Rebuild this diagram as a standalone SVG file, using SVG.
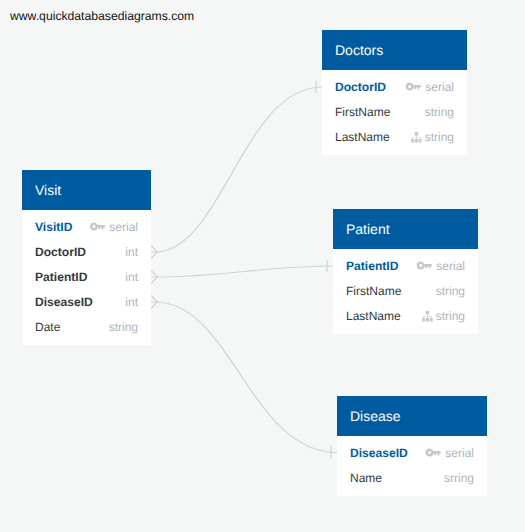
<svg xmlns="http://www.w3.org/2000/svg" width="525" height="532" viewBox="0 0 525 532">
<style>
text{font-family:"Liberation Sans",Arial,sans-serif;font-size:12px;fill:#343a40;text-rendering:geometricPrecision}
.t{font-size:14px;fill:#fff}
.pk{font-weight:700;font-size:12.1px;fill:#005ba1}
.fk{font-weight:700;font-size:12.1px}
.ty{fill:#adb5bd;text-anchor:end}
.hd{fill:#005ba1}
.bd{fill:#fff}
.c{fill:none;stroke:#d0d3d3;stroke-width:1.2}
.i{fill:#c4c9ce}
</style>
<defs>
<g id="key"><path class="i" fill-rule="evenodd" d="M4 -4A4 4 0 0 1 7.700 -1.500H15V1H13.500V3H11.800V1H10.300V2.500H8.700V1H7.800A4 4 0 1 1 4 -4ZM4 -1.500A1.500 1.500 0 1 0 4 1.500A1.500 1.500 0 1 0 4 -1.500Z"/></g>
<g id="tree"><path class="i" d="M3.500 -5.500H7V-2H3.500ZM0 1.500H3V5H0ZM3.800 1.500H6.800V5H3.800ZM7.500 1.500H10.500V5H7.500ZM5 -2H5.600V-0.500H9.300V1.500H8.700V0.100H5.600V1.500H5V0.100H1.800V1.500H1.200V-0.500H5Z"/></g>
</defs>
<rect width="525" height="532" fill="#f5f7f7"/>
<text x="10" y="20" style="fill:#111;font-size:12.2px">www.quickdatabasediagrams.com</text>
<g id="connectors">
<path class="c" d="M151 252H155C222 252 243 87 322 87"/>
<path class="c" d="M151 277H155C225 277 263 266 333 266"/>
<path class="c" d="M151 302H155C232 302 250 452.500 337 452.500"/>
<path class="c" d="M151 245.500L157.500 252L151 258.500M151 270.500L157.500 277L151 283.500M151 295.500L157.500 302L151 308.500"/>
<path class="c" d="M316 81V93M327 260V272M331 446V458"/>
</g>
<g id="visit">
<rect class="bd" x="22" y="170" width="129" height="175"/>
<rect class="hd" x="22" y="170" width="129" height="40"/>
<text class="t" x="35" y="195">Visit</text>
<text class="pk" x="35" y="231">VisitID</text><use href="#key" x="90" y="226.500"/><text class="ty" x="138" y="231">serial</text>
<text class="fk" x="35" y="256">DoctorID</text><text class="ty" x="138" y="256">int</text>
<text class="fk" x="35" y="281">PatientID</text><text class="ty" x="138" y="281">int</text>
<text class="fk" x="35" y="306">DiseaseID</text><text class="ty" x="138" y="306">int</text>
<text x="35" y="331">Date</text><text class="ty" x="138" y="331">string</text>
</g>
<g id="doctors">
<rect class="bd" x="322" y="30" width="145" height="125"/>
<rect class="hd" x="322" y="30" width="145" height="40"/>
<text class="t" x="335" y="55">Doctors</text>
<text class="pk" x="335" y="91">DoctorID</text><use href="#key" x="405.700" y="86.500"/><text class="ty" x="454" y="91">serial</text>
<text x="335" y="116">FirstName</text><text class="ty" x="454" y="116">string</text>
<text x="335" y="141">LastName</text><use href="#tree" x="411.200" y="137.500"/><text class="ty" x="454" y="141">string</text>
</g>
<g id="patient">
<rect class="bd" x="333" y="209" width="145" height="125"/>
<rect class="hd" x="333" y="209" width="145" height="40"/>
<text class="t" x="346" y="234">Patient</text>
<text class="pk" x="346" y="270">PatientID</text><use href="#key" x="416.700" y="265.500"/><text class="ty" x="465" y="270">serial</text>
<text x="346" y="295">FirstName</text><text class="ty" x="465" y="295">string</text>
<text x="346" y="320">LastName</text><use href="#tree" x="422.200" y="316.500"/><text class="ty" x="465" y="320">string</text>
</g>
<g id="disease">
<rect class="bd" x="337" y="396" width="150" height="100"/>
<rect class="hd" x="337" y="396" width="150" height="40"/>
<text class="t" x="350" y="421">Disease</text>
<text class="pk" x="350" y="457">DiseaseID</text><use href="#key" x="425.700" y="452.500"/><text class="ty" x="474" y="457">serial</text>
<text x="350" y="482">Name</text><text class="ty" x="474" y="482">srring</text>
</g>
</svg>
